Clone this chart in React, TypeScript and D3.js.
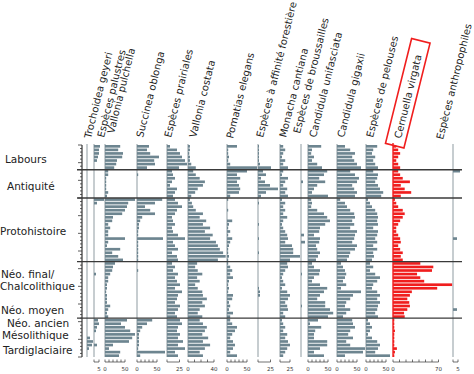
import * as d3 from "d3";
import React from "react";

// malacological diagram: one column per species / ecological group, one row per sample

const periods = ["Labours", "Antiquité", "Protohistoire", "Néo. final/", "Chalcolithique", "Néo. moyen", "Néo. ancien", "Mésolithique", "Tardiglaciaire"];
const sectionBreaks = [7, 15, 33, 49]; // sample index where the period changes
const N_SAMPLES = 60;

const speciesNames = [
  "Trochoidea geyeri", "Espèces palustres", "Vallonia pulchella", "Succinea oblonga",
  "Espèces prairiales", "Vallonia costata", "Pomatias elegans", "Espèces à affinité forestière",
  "Monacha cantiana", "Espèces de broussailles", "Candidula unifasciata", "Candidula gigaxii",
  "Espèces de pelouses", "Cernuella virgata", "Espèces anthropophiles",
];

// values top (Labours) to bottom (Tardiglaciaire): 7 + 8 + 18 + 16 + 11 samples
const trochoidea = [
  0, 0, 0, 0, 0, 0, 0,
  0, 0, 0, 0, 0, 0, 0, 0,
  0, 0, 0, 0, 0, 0, 0, 0, 0, 0, 0, 0, 0, 0, 0, 0, 0, 0,
  0, 0, 0, 0, 0, 0, 0, 0, 0, 0, 0, 0, 0, 0, 0, 0,
  0, 0, 0, 0, 0, 3, 6, 5, 2, 0, 0,
];
const palustres = [
  6, 5, 5, 4, 3, 0, 0,
  0, 0, 0, 0, 0, 0, 0, 0,
  10, 3, 0, 0, 0, 0, 0, 0, 0, 0, 0, 0, 0, 0, 0, 0, 0, 0,
  0, 0, 0, 2, 0, 0, 0, 0, 0, 0, 0, 0, 0, 0, 0, 0,
  4, 5, 3, 2, 0, 0, 0, 3, 0, 0, 0,
];
const pulchella = [
  38, 33, 45, 43, 30, 28, 23,
  8, 8, 3, 3, 3, 3, 8, 5,
  75, 58, 55, 50, 43, 20, 18, 8, 13, 8, 8, 50, 8, 5, 38, 18, 33, 45,
  25, 20, 18, 13, 8, 8, 5, 5, 3, 5, 5, 5, 13, 8, 5, 8,
  55, 40, 50, 63, 75, 68, 60, 20, 10, 38, 35,
];
const succinea = [
  30, 25, 33, 55, 43, 45, 25,
  0, 3, 0, 0, 0, 0, 0, 0,
  63, 45, 20, 33, 45, 13, 8, 5, 5, 3, 3, 65, 3, 3, 3, 3, 3, 3,
  0, 0, 3, 0, 0, 0, 0, 0, 0, 0, 0, 0, 0, 0, 0, 0,
  38, 25, 13, 8, 5, 5, 5, 5, 3, 70, 8,
];
const prairiales = [
  6, 20, 26, 30, 36, 40, 24,
  10, 12, 16, 10, 6, 20, 16, 12,
  16, 22, 30, 20, 16, 10, 12, 16, 10, 12, 22, 36, 12, 16, 22, 10, 20, 22,
  10, 16, 12, 22, 16, 20, 26, 16, 30, 22, 20, 16, 26, 22, 16, 20,
  26, 30, 22, 20, 26, 22, 32, 22, 36, 16, 22,
];
const costata = [
  3, 3, 2, 3, 3, 5, 12,
  8, 12, 18, 26, 23, 15, 11, 5,
  3, 6, 8, 12, 23, 18, 28, 23, 34, 26, 38, 34, 43, 46, 49, 54, 58, 46,
  14, 11, 15, 22, 14, 18, 11, 15, 22, 23, 29, 22, 26, 18, 15, 22,
  18, 23, 29, 26, 22, 31, 23, 34, 26, 18, 23,
];
const pomatias = [
  25, 3, 3, 5, 3, 8, 75,
  50, 25, 33, 25, 30, 33, 30, 8,
  3, 0, 0, 3, 0, 0, 13, 5, 3, 8, 3, 13, 8, 5, 3, 3, 5, 3,
  3, 8, 13, 8, 15, 5, 3, 5, 3, 15, 13, 5, 8, 5, 15, 8,
  8, 13, 25, 20, 13, 8, 15, 20, 15, 8, 25,
];
const forestieres = [
  2, 2, 2, 2, 2, 4, 26,
  10, 16, 6, 14, 24, 40, 16, 6,
  0, 2, 0, 0, 0, 0, 0, 2, 0, 0, 0, 2, 0, 0, 0, 2, 0, 0,
  0, 0, 0, 0, 0, 0, 0, 2, 4, 4, 0, 0, 0, 0, 0, 0,
  0, 0, 0, 0, 0, 0, 0, 0, 0, 0, 0,
];
const monacha = [
  8, 13, 8, 5, 13, 8, 20,
  8, 5, 20, 13, 8, 18, 13, 20,
  5, 13, 8, 13, 8, 18, 8, 5, 8, 13, 18, 20, 13, 30, 33, 33, 50, 25,
  18, 20, 13, 8, 5, 8, 13, 5, 18, 25, 20, 13, 18, 20, 8, 13,
  5, 8, 13, 8, 18, 13, 20, 25, 18, 13, 8,
];
const broussailles = [
  0, 0, 0, 0, 0, 0, 0,
  0, 0, 0, 4, 0, 0, 0, 0,
  0, 0, 0, 0, 0, 0, 0, 0, 0, 0, 6, 0, 8, 0, 0, 0, 0, 0,
  0, 0, 0, 2, 0, 0, 0, 0, 0, 0, 0, 0, 2, 0, 0, 0,
  0, 0, 0, 0, 0, 0, 0, 0, 0, 0, 0,
];
const unifasciata = [
  33, 10, 8, 15, 10, 23, 35,
  48, 40, 28, 43, 23, 15, 10, 50,
  8, 10, 8, 23, 40, 48, 55, 43, 30, 28, 15, 30, 28, 20, 23, 30, 25, 20,
  10, 15, 30, 28, 15, 10, 30, 48, 40, 30, 23, 43, 43, 55, 63, 50,
  25, 5, 33, 18, 15, 15, 48, 48, 30, 15, 40,
];
const gigaxii = [
  20, 33, 45, 38, 43, 50, 60,
  33, 45, 55, 50, 38, 43, 50, 45,
  8, 20, 25, 33, 43, 45, 38, 43, 33, 50, 45, 43, 38, 50, 45, 33, 30, 25,
  10, 15, 20, 23, 20, 15, 23, 10, 60, 40, 33, 23, 20, 33, 23, 15,
  38, 40, 45, 33, 28, 40, 23, 33, 70, 65, 20,
];
const pelouses = [
  28, 18, 15, 23, 18, 23, 30,
  18, 30, 28, 23, 30, 35, 43, 38,
  5, 10, 15, 23, 28, 30, 28, 30, 18, 30, 28, 23, 28, 18, 28, 18, 20, 15,
  10, 18, 10, 23, 35, 28, 18, 15, 28, 35, 28, 35, 30, 28, 23, 30,
  5, 10, 15, 10, 5, 15, 28, 35, 30, 23, 60,
];
const cernuella = [
  5, 8, 11, 8, 5, 8, 11,
  8, 11, 15, 26, 12, 18, 28, 12,
  3, 5, 8, 15, 18, 15, 11, 8, 5, 5, 8, 11, 12, 8, 11, 15, 12, 15,
  42, 62, 60, 37, 42, 48, 91, 68, 29, 26, 22, 25, 26, 22, 17, 18,
  2, 2, 2, 3, 2, 2, 2, 2, 6, 3, 2,
];
const anthropophiles = [
  0, 0, 0, 0, 0, 0, 0,
  7, 0, 0, 0, 0, 0, 0, 0,
  0, 0, 0, 0, 0, 0, 0, 0, 0, 0, 0, 4, 0, 0, 0, 0, 0, 0,
  0, 0, 0, 0, 0, 0, 0, 0, 0, 0, 0, 0, 0, 4, 0, 0,
  0, 0, 0, 0, 0, 0, 0, 0, 0, 0, 0,
];

const scale50 = [0, 10, 20, 30, 40, 50];

// layout: baseline x, px per unit, scale ticks, labelled ticks, title anchor
const columns = [
  { values: trochoidea, x: 87, k: 1, ticks: [], labelled: [], title: [91, 139] },
  { values: palustres, x: 94, k: 1, ticks: [0, 5], labelled: [5], title: [104, 138] },
  { values: pulchella, x: 105, k: 0.4, ticks: scale50, labelled: [0, 50], title: [114, 134] },
  { values: succinea, x: 137, k: 0.4, ticks: scale50, labelled: [0, 50], title: [143, 138] },
  { values: prairiales, x: 167, k: 0.5, ticks: [0, 25], labelled: [25], title: [171, 138] },
  { values: costata, x: 188, k: 0.65, ticks: [0, 10, 20, 30, 40], labelled: [0, 40], title: [196, 138] },
  { values: pomatias, x: 227, k: 0.4, ticks: scale50, labelled: [0, 50], title: [233, 139] },
  { values: forestieres, x: 258, k: 0.5, ticks: [0, 25], labelled: [25], title: [263, 138] },
  { values: monacha, x: 280, k: 0.4, ticks: [0, 25], labelled: [25], title: [286, 138] },
  { values: broussailles, x: 301, k: 0.5, ticks: [], labelled: [], title: [300, 134] },
  { values: unifasciata, x: 308, k: 0.4, ticks: scale50, labelled: [0, 50], title: [316, 138] },
  { values: gigaxii, x: 337, k: 0.4, ticks: scale50, labelled: [0, 50], title: [344, 138] },
  { values: pelouses, x: 366, k: 0.4, ticks: scale50, labelled: [0, 50], title: [373, 138] },
  { values: cernuella, x: 393, k: 0.65, ticks: [0, 10, 20, 30, 40, 50, 60, 70], labelled: [0, 70], title: [401, 139], red: true },
  { values: anthropophiles, x: 453, k: 1, ticks: [0, 5], labelled: [5], title: [443, 140] },
];

const periodPos = [[5, 163], [7, 190], [0, 235], [1, 278], [0, 290], [1, 314], [7, 327], [2, 339], [3, 354]];

const BAR = "#6d8590";
const RED = "#f01e1e";
const ANGLE = -76;

export default function App() {
  const top = 145;
  const bottom = 357;
  const y = d3.scaleBand<number>().domain(d3.range(N_SAMPLES)).range([top, bottom]).paddingInner(0.25);
  const yEdge = d3.scaleLinear().domain([0, N_SAMPLES]).range([top, bottom]);
  const axisY = 362;

  return (
    <div style={{ position: "absolute", left: 0, top: 0 }}>
      <svg width={474} height={374} style={{ fontFamily: "DejaVu Sans, sans-serif", display: "block" }}>
        <rect width={474} height={374} fill="#fff" />

        {/* species titles */}
        {columns.map((c, i) => (
          <text key={i} transform={`translate(${c.title[0]},${c.title[1]}) rotate(${ANGLE})`} fontSize={10} fill="#222">
            {speciesNames[i]}
          </text>
        ))}
        {/* red frame around Cernuella virgata */}
        <rect transform={`translate(${columns[13].title[0]},${columns[13].title[1]}) rotate(${ANGLE})`}
          x={-8} y={-14} width={108} height={19} fill="none" stroke={RED} strokeWidth={1.6} />

        {/* columns */}
        {columns.map((c, i) => {
          const max = Math.max(d3.max(c.values) || 0, d3.max(c.ticks) || 0);
          const x = d3.scaleLinear().domain([0, max]).range([c.x, c.x + max * c.k]);
          const col = c.red ? RED : BAR;
          return (
            <g key={i}>
              <line x1={c.x} x2={c.x} y1={c.red ? 143 : top - 1} y2={bottom} stroke={c.red ? RED : "#8e9ba1"} strokeWidth={c.red ? 1.4 : 1} />
              {c.values.map((v, j) => v > 0 ? (
                <rect key={j} x={c.x} y={y(j)} width={x(v) - c.x} height={y.bandwidth()} fill={col} />
              ) : null)}
              {c.ticks.length > 0 && (
                <g stroke="#333" strokeWidth={0.7}>
                  <line x1={x(0)} x2={x(c.ticks[c.ticks.length - 1])} y1={axisY} y2={axisY} />
                  {c.ticks.map(t => <line key={t} x1={x(t)} x2={x(t)} y1={axisY} y2={axisY - 2.5} />)}
                </g>
              )}
              {c.labelled.map(t => (
                <text key={t} x={x(t)} y={axisY + 9} fontSize={5.5} textAnchor="middle" fill="#333">{t}</text>
              ))}
            </g>
          );
        })}

        {/* depth axis */}
        <g stroke="#333">
          <line x1={82} x2={82} y1={top} y2={bottom} strokeWidth={1.2} />
          {d3.range(N_SAMPLES + 1).map(i => (
            <line key={i} x1={i % 5 === 0 ? 78 : 80} x2={82} y1={yEdge(i)} y2={yEdge(i)} strokeWidth={0.8} />
          ))}
        </g>

        {/* period boundaries */}
        {sectionBreaks.map(b => (
          <line key={b} x1={77} x2={462} y1={yEdge(b)} y2={yEdge(b)} stroke="#3a3a3a" strokeWidth={1.4} />
        ))}

        {/* period names */}
        {periods.map((p, i) => (
          <text key={p} x={periodPos[i][0]} y={periodPos[i][1]} fontSize={10.5} fill="#222">{p}</text>
        ))}
      </svg>
    </div>
  );
}
